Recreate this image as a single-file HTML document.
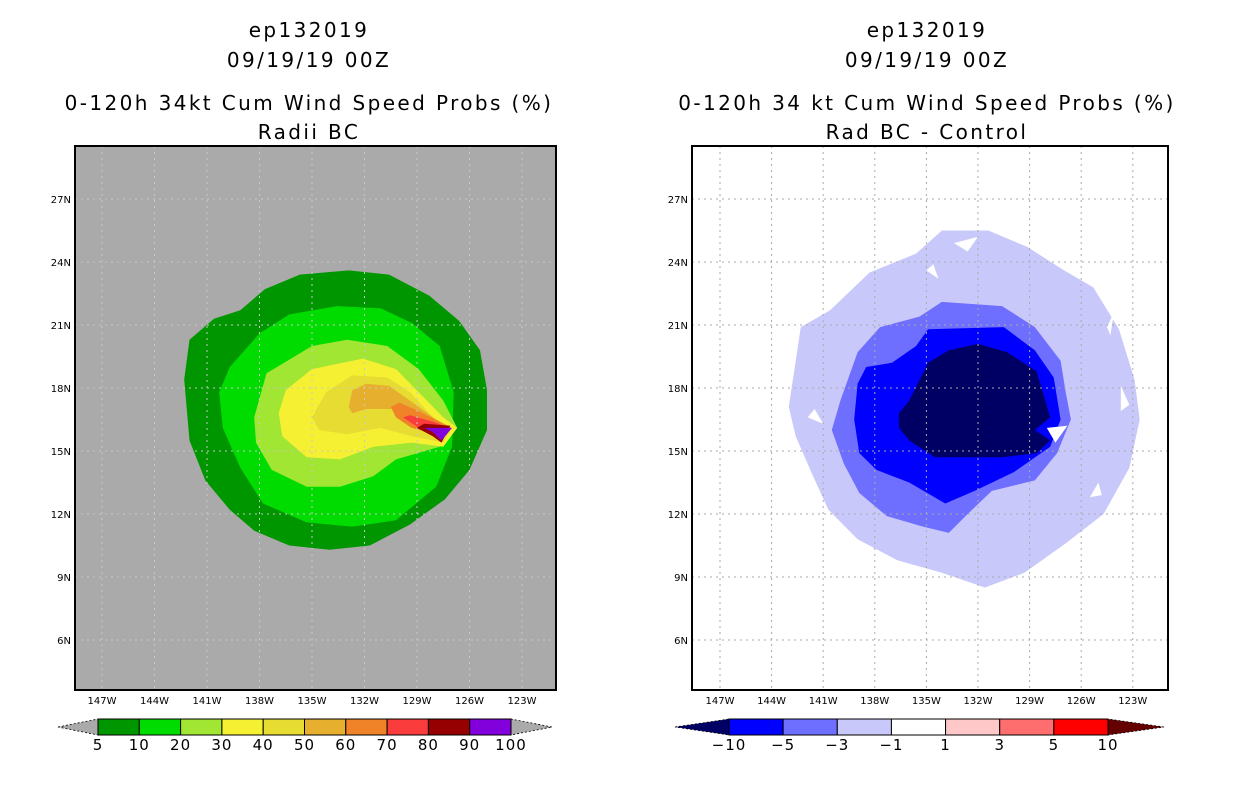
<!DOCTYPE html>
<html><head><meta charset="utf-8">
<style>
body{margin:0;background:#fff;}
svg{display:block;font-family:"DejaVu Sans","Liberation Sans",sans-serif;}
.t{font-size:20px;text-anchor:middle;fill:#000;letter-spacing:2.4px;}
.tk{font-size:10px;fill:#000;}
.cb{font-size:15px;text-anchor:middle;fill:#000;letter-spacing:1px;}
</style></head><body>
<svg id="s" width="1236" height="800" viewBox="0 0 1236 800">
<g>
<text class="t" x="309" y="37">ep132019</text>
<text class="t" x="309" y="67">09/19/19 00Z</text>
<text class="t" x="309" y="110">0-120h 34kt Cum Wind Speed Probs (%)</text>
<text class="t" x="309" y="139">Radii BC</text>
</g>
<g>
<text class="t" x="927" y="37">ep132019</text>
<text class="t" x="927" y="67">09/19/19 00Z</text>
<text class="t" x="927" y="110">0-120h 34 kt Cum Wind Speed Probs (%)</text>
<text class="t" x="927" y="139">Rad BC - Control</text>
</g>
</svg>
<script>
// ---- data ----
const lonTicks=[147,144,141,138,135,132,129,126,123];
const latTicks=[27,24,21,18,15,12,9,6];
const leftLevels=["5","10","20","30","40","50","60","70","80","90","100"];
const leftColors=["#009600","#00dc00","#a0e632","#f5f032","#e6dc32","#e6af2d","#f08228","#fa3c3c","#960000","#8200dc"];
const rightLevels=["-10","-5","-3","-1","1","3","5","10"];
const rightColors=["#0000ff","#6e6eff","#c8c8fa","#ffffff","#ffc8c8","#ff6e6e","#ff0000"];
// contours [lon W, lat N]
const L5=[[142.3,18.4],[142.0,20.3],[140.6,21.3],[139.1,21.7],[137.7,22.7],[135.7,23.4],[132.9,23.6],[130.6,23.4],[128.3,22.4],[126.6,21.2],[125.4,19.8],[125.0,17.9],[125.0,16.0],[126.0,14.1],[127.4,12.7],[129.4,11.5],[131.7,10.5],[134.0,10.3],[136.3,10.5],[138.3,11.2],[139.7,12.2],[141.1,13.6],[142.0,15.5]];
const L10=[[140.3,17.8],[139.7,19.0],[138.0,20.6],[136.3,21.5],[133.6,21.9],[131.1,21.8],[129.3,21.1],[127.7,20.0],[126.9,17.8],[127.0,15.2],[127.9,13.3],[130.2,11.7],[132.7,11.4],[135.3,11.6],[137.8,12.5],[139.1,14.2],[140.1,16.1]];
const L20=[[138.3,16.6],[137.6,18.7],[135.0,20.0],[133.0,20.3],[130.7,20.0],[128.9,18.9],[127.5,17.4],[126.7,16.1],[127.7,15.2],[130.2,14.6],[131.5,13.8],[133.4,13.3],[135.3,13.3],[137.3,14.1],[138.2,15.4]];
const L30=[[136.9,16.8],[136.5,17.9],[135.0,18.9],[132.1,19.4],[130.2,18.9],[128.9,17.8],[127.5,16.6],[126.7,16.1],[127.5,15.2],[129.3,15.4],[131.5,15.2],[133.4,14.6],[135.3,14.7],[136.7,15.7]];
const L40=[[135.0,16.6],[134.2,17.8],[132.7,18.6],[130.7,18.5],[129.4,17.8],[128.1,16.6],[127.0,16.1],[127.5,15.4],[129.3,15.7],[131.1,16.1],[133.0,15.8],[134.6,16.0]];
const L50=[[132.9,17.1],[132.7,17.9],[131.9,18.2],[130.6,18.1],[129.4,17.4],[127.9,16.5],[127.0,16.1],[127.5,15.6],[128.9,16.1],[130.4,17.0],[131.9,17.0],[132.7,16.8]];
const L60=[[130.5,17.1],[130.0,17.3],[128.9,16.9],[127.5,16.3],[127.1,16.1],[127.5,15.7],[129.3,16.1],[130.2,16.6]];
const L70=[[129.8,16.6],[129.4,16.7],[128.1,16.4],[127.1,16.1],[127.5,15.7],[128.9,16.1]];
const L80=[[129.0,16.1],[128.6,16.3],[127.1,16.2],[127.6,15.4],[128.1,15.7]];
const L90=[[128.6,16.1],[127.0,16.1],[127.6,15.5],[128.1,15.9]];
const R1=[[143.0,17.1],[142.3,20.9],[140.6,21.7],[138.3,23.5],[135.6,24.4],[134.1,25.5],[131.4,25.5],[129.1,24.7],[127.0,23.6],[125.3,22.8],[123.8,20.8],[122.9,18.4],[122.6,16.5],[123.2,14.2],[124.7,12.0],[126.9,10.6],[129.3,9.2],[131.6,8.5],[134.1,9.2],[136.7,9.8],[139.0,10.8],[140.7,12.2],[141.7,14.0],[142.6,15.7]];
const R3=[[140.5,16.0],[140.0,17.4],[139.0,19.7],[137.7,20.9],[135.4,21.4],[134.1,22.1],[130.6,21.9],[128.7,20.9],[127.2,19.3],[126.9,17.8],[126.6,16.5],[127.4,14.9],[128.7,13.6],[131.2,13.1],[132.6,12.0],[133.7,11.1],[135.2,11.4],[137.3,11.9],[138.9,13.0],[139.8,14.4]];
const R5=[[139.2,16.5],[139.0,18.2],[138.5,19.0],[137.0,19.2],[135.6,20.0],[134.9,20.8],[130.5,20.9],[128.7,19.8],[127.6,18.5],[127.2,16.5],[127.8,15.2],[129.9,14.0],[132.2,13.1],[133.9,12.5],[136.0,13.5],[137.9,14.1],[138.9,14.9]];
const R10=[[136.6,16.8],[136.0,17.4],[134.9,19.2],[133.7,19.8],[132.0,20.1],[130.3,19.7],[128.6,18.8],[127.8,16.6],[128.7,16.0],[127.8,15.5],[128.6,14.9],[130.6,14.7],[134.5,14.7],[136.0,15.5],[136.6,16.1]];
const RHoles=[[[128.0,16.1],[126.8,16.2],[127.5,15.4]],[[133.4,24.9],[132.0,25.2],[132.6,24.5]],[[135.0,23.6],[134.3,23.2],[134.6,23.9]],[[123.7,18.1],[123.2,17.2],[123.7,16.9]],[[124.5,20.9],[124.1,21.6],[124.3,20.5]],[[141.5,17.0],[141.0,16.3],[141.9,16.6]],[[125.0,13.5],[125.5,12.8],[124.8,12.9]]];

// ---- layout ----
const NS="http://www.w3.org/2000/svg";
const svg=document.getElementById('s');
const panels=[{x0:75,x1:556,lon0:102,dx:17.5,bg:"#aaaaaa",grid:"#c8c8c8",name:"left"},
              {x0:692,x1:1168,lon0:720,dx:17.2,bg:"#ffffff",grid:"#aaaaaa",name:"right"}];
const Y0=146,Y1=690;
function yS(lat){return 388-(lat-18)*21;}
function mk(tag,attrs,parent){const e=document.createElementNS(NS,tag);for(const k in attrs)e.setAttribute(k,attrs[k]);(parent||svg).appendChild(e);return e;}
function poly(p,pts,fill,parent){return mk('polygon',{points:pts.map(q=>(p.lon0+(147-q[0])*p.dx).toFixed(1)+','+yS(q[1]).toFixed(1)).join(' '),fill:fill},parent);}

panels.forEach((p,pi)=>{
  const g=mk('g',{});
  
  
  const bg=mk('rect',{x:p.x0,y:Y0,width:p.x1-p.x0,height:Y1-Y0,fill:p.bg},g);
  
  
  const sets=pi==0?[[L5,0],[L10,1],[L20,2],[L30,3],[L40,4],[L50,5],[L60,6],[L70,7],[L80,8],[L90,9]]:[[R1,2],[R3,1],[R5,0],[R10,-1]];
  sets.forEach(s=>{
    const col=pi==0?leftColors[s[1]]:(s[1]<0?"#000064":rightColors[s[1]]);
    const e=poly(p,s[0],col,g);
    
    
  });
  if(pi==1){RHoles.forEach(h=>{const e=poly(p,h,"#ffffff",g);
    
    });}
  lonTicks.forEach(l=>{
    const x=p.lon0+(147-l)*p.dx;
    const gl=mk('line',{x1:x,x2:x,y1:Y0,y2:Y1,stroke:p.grid,'stroke-dasharray':'2,4','stroke-width':1},g);
    
    
    const t=mk('text',{x:x,y:704,class:'tk','text-anchor':'middle'},g);t.textContent=l+'W';
    
    
  });
  latTicks.forEach(l=>{
    const y=yS(l);
    const gl=mk('line',{x1:p.x0,x2:p.x1,y1:y,y2:y,stroke:p.grid,'stroke-dasharray':'2,4','stroke-width':1},g);
    
    
    const t=mk('text',{x:p.x0-4,y:y+4,class:'tk','text-anchor':'end'},g);t.textContent=l+'N';
    
    
  });
  const b=mk('rect',{x:p.x0,y:Y0,width:p.x1-p.x0,height:Y1-Y0,fill:'none',stroke:'#000','stroke-width':2},g);
  
  
});

// colorbars
function colorbar(name,x0,x1,tipL,tipR,colors,labels,triL,triR){
  const g=mk('g',{});
  
  
  const n=colors.length,w=(x1-x0)/n,yt=719,yb=735,ym=727;
  mk('polygon',{points:`${tipL},${ym} ${x0},${yt} ${x0},${yb}`,fill:triL,stroke:'#000','stroke-dasharray':'2,2','stroke-width':0.8},g);
  mk('polygon',{points:`${tipR},${ym} ${x1},${yt} ${x1},${yb}`,fill:triR,stroke:'#000','stroke-dasharray':'2,2','stroke-width':0.8},g);
  colors.forEach((c,i)=>{
    const r=mk('rect',{x:x0+i*w,y:yt,width:w,height:yb-yt,fill:c,stroke:'#000','stroke-width':1},g);
    
    
  });
  labels.forEach((l,i)=>{
    const t=mk('text',{x:x0+i*w,y:750,class:'cb'},g);t.textContent=l.replace('-','\u2212');
    
    
  });
}
colorbar('left-colorbar',98,511,58,552,leftColors,leftLevels,'#aaaaaa','#aaaaaa');
colorbar('right-colorbar',729,1108,675,1164,rightColors,rightLevels,'#000064','#640000');
</script>
</body></html>
